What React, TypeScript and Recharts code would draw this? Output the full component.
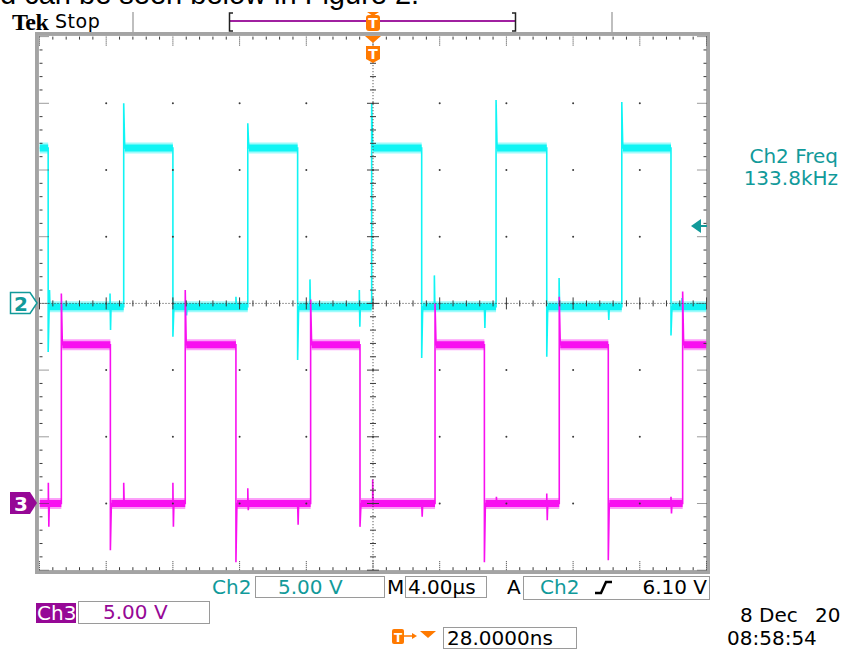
import { LineChart, Line, XAxis, YAxis, ReferenceLine, ReferenceDot } from 'recharts'

// scope setup: 10 div x 4 µs, 8 div vertical, 5 V/div on both channels
const TIME_SPAN = 40
const DIVS_Y = 8
const VOLTS_PER_DIV = 5
const EDGE_SETTLE = 0.06

// Ch2 (cyan) – ground marker at 4 div, starts high
const ch2Offset = 4
const ch2Low = -0.25
const ch2High = 11.65
const ch2EdgeTimes = [0.52, 5.05, 8.0, 12.49, 15.48, 19.92, 22.92, 27.38, 30.42, 34.92, 37.87]
const ch2EdgePeaks = [-3.65, 15.0, -2.5, 13.5, -4.25, 15.0, -4.1, 15.25, -4.0, 15.1, -2.4]
// [time µs, up peak V, down peak V]
const ch2Spikes: [number, number, number][] = [
  [0.6, 1.0, -0.25],
  [4.23, 0.75, -2.0],
  [8.79, -0.25, -0.9],
  [11.78, 0.5, -0.25],
  [16.22, 1.8, -0.25],
  [19.18, 1.0, -1.75],
  [23.68, 2.1, -0.25],
  [26.68, -0.25, -1.85],
  [31.16, 1.9, -0.25],
  [34.11, -0.25, -1.25],
  [38.53, 0.4, -0.25],
]

// Ch3 (magenta) – ground marker at 1 div, starts low
const ch3Offset = 1
const ch3Low = 0
const ch3High = 11.9
const ch3EdgeTimes = [1.31, 4.25, 8.74, 11.78, 16.26, 19.22, 23.72, 26.68, 31.17, 34.11, 38.57]
const ch3EdgePeaks = [15.75, -3.5, 16.0, -4.4, 15.3, -1.75, 15.0, -4.4, 15.5, -4.25, 15.9]
const ch3Spikes: [number, number, number][] = [
  [0.53, 1.55, -1.75],
  [5.05, 1.55, 0],
  [8.0, 1.55, -1.75],
  [12.49, 1.15, -0.5],
  [15.48, 0, -1.6],
  [19.98, 1.8, 0],
  [22.92, 0, -1.0],
  [27.4, 0.5, 0],
  [30.42, 0.75, -1.25],
  [37.87, 0.5, -0.75],
]

type Pt = { t: number; v: number | null }

function buildChannel(
  offsetDiv: number,
  startHigh: boolean,
  low: number,
  high: number,
  edgeTimes: number[],
  edgePeaks: number[],
  spikes: [number, number, number][],
) {
  const toDiv = (volts: number) => offsetDiv + volts / VOLTS_PER_DIV
  const events = [
    ...edgeTimes.map((t, i) => ({ t, edge: i, spike: -1 })),
    ...spikes.map((s, i) => ({ t: s[0], edge: -1, spike: i })),
  ].sort((a, b) => a.t - b.t)
  let level = startHigh ? high : low
  let segStart = 0
  const trace: Pt[] = [{ t: 0, v: toDiv(level) }]
  const band: Pt[] = []
  for (const ev of events) {
    if (ev.edge >= 0) {
      const next = level === high ? low : high
      band.push({ t: segStart, v: toDiv(level) }, { t: ev.t, v: toDiv(level) }, { t: ev.t + 0.03, v: null })
      trace.push(
        { t: ev.t, v: toDiv(level) },
        { t: ev.t, v: toDiv(edgePeaks[ev.edge]) },
        { t: ev.t + EDGE_SETTLE, v: toDiv(next) },
      )
      level = next
      segStart = ev.t + EDGE_SETTLE
    } else {
      const [t, up, down] = spikes[ev.spike]
      trace.push(
        { t, v: toDiv(level) },
        { t, v: toDiv(up) },
        { t: t + 0.03, v: toDiv(down) },
        { t: t + 0.06, v: toDiv(level) },
      )
    }
  }
  trace.push({ t: TIME_SPAN, v: toDiv(level) })
  band.push({ t: segStart, v: toDiv(level) }, { t: TIME_SPAN, v: toDiv(level) })
  return { trace, band }
}

const ch2 = buildChannel(ch2Offset, true, ch2Low, ch2High, ch2EdgeTimes, ch2EdgePeaks, ch2Spikes)
const ch3 = buildChannel(ch3Offset, false, ch3Low, ch3High, ch3EdgeTimes, ch3EdgePeaks, ch3Spikes)

// graticule positions
const majorX = Array.from({ length: 11 }, (_, i) => i * 4)
const majorY = Array.from({ length: 9 }, (_, i) => i)
const minorX = Array.from({ length: 51 }, (_, i) => +(i * 0.8).toFixed(2))
const minorY = Array.from({ length: 41 }, (_, i) => +(i * 0.2).toFixed(2))

const CYAN = '#10F4F4'
const MAGENTA = '#F810F0'
const TEAL = '#119A9A'
const PURPLE = '#960896'
const ORANGE = '#FF7A00'
const GRAT = '#3a3a3a'
const SCOPE_FONT = '"DejaVu Sans", Verdana, sans-serif'

function seg(x1: number, y1: number, x2: number, y2: number, key: string, dashed = false) {
  return (
    <ReferenceLine
      key={key}
      segment={[{ x: x1, y: y1 }, { x: x2, y: y2 }]}
      stroke={GRAT}
      strokeWidth={1}
      strokeDasharray={dashed ? '1 1' : undefined}
      ifOverflow="visible"
    />
  )
}

function Graticule() {
  const items = []
  // edge ticks + center cross ticks
  for (const x of minorX) {
    const major = majorX.includes(x)
    items.push(seg(x, 0, x, major ? 0.15 : 0.045, `b${x}`, major))
    items.push(seg(x, DIVS_Y, x, DIVS_Y - (major ? 0.15 : 0.045), `t${x}`, major))
    items.push(seg(x, 4 - (major ? 0.09 : 0.045), x, 4 + (major ? 0.09 : 0.045), `ch${x}`))
  }
  for (const y of minorY) {
    const major = majorY.includes(y)
    items.push(seg(0, y, major ? 0.6 : 0.18, y, `l${y}`, major))
    items.push(seg(TIME_SPAN, y, TIME_SPAN - (major ? 0.6 : 0.18), y, `r${y}`, major))
    items.push(seg(20 - (major ? 0.36 : 0.18), y, 20 + (major ? 0.36 : 0.18), y, `cv${y}`))
  }
  return items
}

function GridDots() {
  const dots = []
  for (const x of majorX.slice(1, -1)) {
    for (const y of majorY.slice(1, -1)) {
      dots.push(
        <ReferenceDot key={`d${x}-${y}`} x={x} y={y} r={1} fill={GRAT} stroke="none" ifOverflow="visible" />,
      )
    }
  }
  return dots
}

function TMarker({ x, y }: { x: number; y: number }) {
  // orange trigger "T" badge
  return (
    <g>
      <path d={`M${x - 7},${y} H${x + 7} V${y + 13} L${x},${y + 17} L${x - 7},${y + 13} Z`} fill={ORANGE} />
      <text x={x} y={y + 13} textAnchor="middle" fill="#fff" fontFamily={SCOPE_FONT} fontWeight="bold" fontSize={14}>
        T
      </text>
    </g>
  )
}

function Overlay() {
  return (
    <svg width={841} height={650} style={{ position: 'absolute', left: 0, top: 0, pointerEvents: 'none' }}>
      {/* caption line cut off by the crop */}
      <text x={0} y={4} fontFamily='"Liberation Sans", Arial, sans-serif' fontSize={29} fill="#000">
        d can be seen below in Figure 2.
      </text>

      <text x={12} y={30} fontFamily='"Liberation Serif", "Times New Roman", serif' fontWeight="bold" fontSize={24} letterSpacing={-0.5} fill="#000">
        Tek
      </text>
      <text x={55} y={28} fontFamily={SCOPE_FONT} fontSize={19} letterSpacing={0.5} fill="#000">
        Stop
      </text>

      {/* record bar */}
      <line x1={133} y1={12} x2={133} y2={33} stroke="#aaa" strokeWidth={1.5} />
      <line x1={612} y1={12} x2={612} y2={33} stroke="#aaa" strokeWidth={1.5} />
      <line x1={230} y1={21} x2={515} y2={21} stroke="#a020a0" strokeWidth={2} />
      <path d="M233,13 H229.5 V31 H233" fill="none" stroke="#222" strokeWidth={1.5} />
      <path d="M512,13 H515.5 V31 H512" fill="none" stroke="#222" strokeWidth={1.5} />
      <path d="M367,12 H379 L373,16 Z" fill={ORANGE} />
      <rect x={366} y={15} width={14} height={16} rx={3} fill={ORANGE} />
      <text x={373} y={28} textAnchor="middle" fill="#fff" fontFamily={SCOPE_FONT} fontWeight="bold" fontSize={14}>
        T
      </text>
      <path d="M365,36 H381 L373,43 Z" fill={ORANGE} />
      <TMarker x={373} y={46} />

      {/* frame */}
      <rect x={36.5} y={33.5} width={672} height={539} fill="none" stroke="#a4a4a4" strokeWidth={3} />
      <rect x={38.5} y={35.5} width={668} height={535} fill="none" stroke="#555" strokeWidth={1} strokeDasharray="1 1" />

      {/* channel ground markers */}
      <path d="M10.5,292.5 H30 L37,303 L30,313.5 H10.5 Z" fill="#fff" stroke={TEAL} strokeWidth={1.5} />
      <text x={21} y={311} textAnchor="middle" fill={TEAL} fontFamily={SCOPE_FONT} fontSize={20} fontWeight="bold">
        2
      </text>
      <path d="M10,492 H30 L37,503 L30,514 H10 Z" fill={PURPLE} />
      <text x={21} y={511} textAnchor="middle" fill="#fff" fontFamily={SCOPE_FONT} fontSize={20} fontWeight="bold">
        3
      </text>

      {/* trigger level arrow */}
      <path d="M691,226 L701,219 V233 Z" fill={TEAL} />
      <line x1={700} y1={226} x2={707} y2={226} stroke={TEAL} strokeWidth={2} />

      {/* measurement readout */}
      <text x={838} y={163} textAnchor="end" fill={TEAL} fontFamily={SCOPE_FONT} fontSize={20}>
        Ch2 Freq
      </text>
      <text x={838} y={185} textAnchor="end" fill={TEAL} fontFamily={SCOPE_FONT} fontSize={20}>
        133.8kHz
      </text>

      {/* bottom status row 1 */}
      <g fontFamily={SCOPE_FONT} fontSize={20}>
        <text x={212} y={594} fill={TEAL}>Ch2</text>
        <rect x={255.5} y={576.5} width={129} height={21} fill="#fff" stroke="#9a9a9a" />
        <text x={278} y={594} fill={TEAL}>5.00 V</text>
        <text x={387} y={594} fill="#000">M</text>
        <rect x={405.5} y={576.5} width={81} height={21} fill="#fff" stroke="#9a9a9a" />
        <text x={408} y={594} fill="#000">4.00µs</text>
        <text x={507} y={594} fill="#000">A</text>
        <rect x={523.5} y={576.5} width={186} height={23} fill="#fff" stroke="#9a9a9a" />
        <text x={540} y={594} fill={TEAL}>Ch2</text>
        <path d="M595,593 H601 L606,582 H612" fill="none" stroke="#000" strokeWidth={2.5} />
        <text x={707} y={594} textAnchor="end" fill="#000">6.10 V</text>

        {/* row 2 */}
        <rect x={36} y={603} width={40} height={20} fill={PURPLE} />
        <text x={37} y={620} fill="#fff">Ch3</text>
        <rect x={78.5} y={601.5} width={131} height={22} fill="#fff" stroke="#9a9a9a" />
        <text x={103} y={619} fill={PURPLE}>5.00 V</text>

        <text x={740} y={622} fill="#000">8 Dec</text>
        <text x={815} y={622} fill="#000">2017</text>

        {/* row 3 */}
        <rect x={392} y={629} width={12} height={15} rx={2} fill={ORANGE} />
        <text x={398} y={642} textAnchor="middle" fill="#fff" fontWeight="bold" fontSize={12}>T</text>
        <line x1={404} y1={636} x2={415} y2={636} stroke={ORANGE} strokeWidth={1.5} />
        <path d="M412,633 L417,636 L412,639 Z" fill={ORANGE} />
        <path d="M420,631 H436 L428,638 Z" fill={ORANGE} />
        <rect x={443.5} y={627.5} width={133} height={21} fill="#fff" stroke="#9a9a9a" />
        <text x={447} y={645} fill="#000">28.0000ns</text>
        <text x={727} y={645} fill="#000">08:58:54</text>
      </g>
    </svg>
  )
}

export default function App() {
  return (
    <div style={{ position: 'absolute', left: 0, top: 0, width: 841, height: 650, overflow: 'hidden', background: '#fff' }}>
      <LineChart width={841} height={650} margin={{ top: 36.6, left: 39.5, right: 134.5, bottom: 79.8 }}>
        <XAxis type="number" dataKey="t" domain={[0, TIME_SPAN]} allowDataOverflow hide />
        <YAxis type="number" domain={[0, DIVS_Y]} allowDataOverflow hide />
        <Line data={ch2.band} dataKey="v" stroke={CYAN} strokeOpacity={0.4} strokeWidth={11} dot={false} activeDot={false} connectNulls={false} isAnimationActive={false} />
        <Line data={ch2.band} dataKey="v" stroke={CYAN} strokeWidth={7} dot={false} activeDot={false} connectNulls={false} isAnimationActive={false} />
        <Line data={ch2.trace} dataKey="v" stroke={CYAN} strokeWidth={1.6} dot={false} activeDot={false} isAnimationActive={false} />
        <Line data={ch3.band} dataKey="v" stroke={MAGENTA} strokeOpacity={0.4} strokeWidth={11} dot={false} activeDot={false} connectNulls={false} isAnimationActive={false} />
        <Line data={ch3.band} dataKey="v" stroke={MAGENTA} strokeWidth={7} dot={false} activeDot={false} connectNulls={false} isAnimationActive={false} />
        <Line data={ch3.trace} dataKey="v" stroke={MAGENTA} strokeWidth={1.6} dot={false} activeDot={false} isAnimationActive={false} />
        <ReferenceLine y={4} stroke={GRAT} strokeDasharray="1 2" />
        <ReferenceLine x={20} stroke={GRAT} strokeDasharray="1 2" />
        {Graticule()}
        {GridDots()}
      </LineChart>
      <Overlay />
    </div>
  )
}
